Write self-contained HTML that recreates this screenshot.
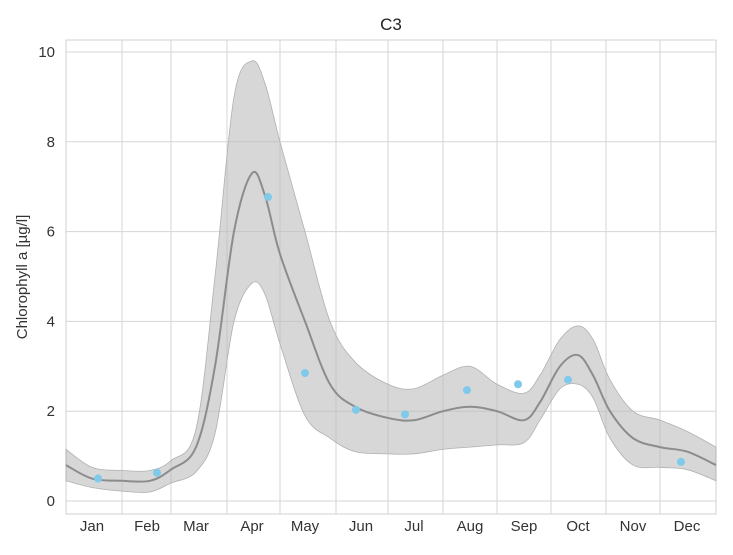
<!DOCTYPE html>
<html><head><meta charset="utf-8"><style>
body{margin:0;background:#fff;font-family:"Liberation Sans",sans-serif;}
</style></head><body>
<svg id="s" width="733" height="550" xmlns="http://www.w3.org/2000/svg" font-family="Liberation Sans, sans-serif">
<rect x="66" y="40" width="650" height="474" fill="#fff" stroke="#d0d0d0" stroke-width="1"/>
<g id="grid" stroke="#d5d5d5" stroke-width="1"></g>
<path id="band" fill="#bdbdbd" fill-opacity="0.6" stroke="#b0b0b0" stroke-width="0.8"/>
<path id="mean" fill="none" stroke="#8c8c8c" stroke-width="2"/>
<g id="dots" fill="#7fc9ea"></g>
<g id="lbl" font-size="15" fill="#333"></g>
<text x="391" y="30" font-size="17" fill="#222" text-anchor="middle">C3</text>
<text transform="translate(27,277) rotate(-90)" font-size="15" fill="#333" text-anchor="middle">Chlorophyll a [µg/l]</text>
</svg>
<script>
const Y=v=>501-44.9*v;
const ns="http://www.w3.org/2000/svg";
const g=document.getElementById('grid'),l=document.getElementById('lbl');
function el(p,t,a,txt){const e=document.createElementNS(ns,t);for(const k in a)e.setAttribute(k,a[k]);if(txt)e.textContent=txt;p.appendChild(e);}
[0,2,4,6,8,10].forEach(v=>{el(g,'line',{x1:66,x2:716,y1:Y(v),y2:Y(v)});el(l,'text',{x:55,y:Y(v)+5,'text-anchor':'end'},String(v));});
[122,171,227,280,336,388,443,497,551,606,660].forEach(x=>el(g,'line',{x1:x,x2:x,y1:40,y2:514}));
const m=['Jan','Feb','Mar','Apr','May','Jun','Jul','Aug','Sep','Oct','Nov','Dec'],mx=[92,147,196,252,305,361,414,470,524,578,633,687];
m.forEach((t,i)=>el(l,'text',{x:mx[i],y:531,'text-anchor':'middle'},t));
const xs=[66,92,122,150,171,196,215,234,252,265,280,305,330,355,388,414,443,470,497,524,540,560,578,593,610,633,660,687,716];
const mean=[0.8,0.5,0.45,0.45,0.7,1.2,3,6,7.3,6.8,5.5,4,2.6,2.1,1.85,1.8,2,2.1,2,1.8,2.2,3,3.25,2.8,2,1.4,1.2,1.1,0.8];
const up=[1.15,0.75,0.68,0.68,0.9,1.6,5,9,9.8,9.3,8,6,4,3.1,2.6,2.5,2.8,3,2.6,2.4,2.8,3.6,3.9,3.6,2.7,2,1.8,1.55,1.2];
const lo=[0.45,0.3,0.22,0.2,0.4,0.65,1.5,4,4.85,4.6,3.5,1.9,1.4,1.1,1.05,1.05,1.15,1.2,1.25,1.3,1.8,2.5,2.6,2.3,1.4,0.8,0.75,0.7,0.45];
function cr(pts,move){let d=(move?'M':'L')+pts[0][0]+','+pts[0][1];
for(let i=0;i<pts.length-1;i++){const p0=pts[Math.max(i-1,0)],p1=pts[i],p2=pts[i+1],p3=pts[Math.min(i+2,pts.length-1)];
d+=`C${p1[0]+(p2[0]-p0[0])/6},${p1[1]+(p2[1]-p0[1])/6} ${p2[0]-(p3[0]-p1[0])/6},${p2[1]-(p3[1]-p1[1])/6} ${p2[0]},${p2[1]}`;}return d;}
const P=a=>xs.map((x,i)=>[x,Y(a[i])]);
document.getElementById('mean').setAttribute('d',cr(P(mean),true));
document.getElementById('band').setAttribute('d',cr(P(up),true)+cr(P(lo).reverse(),false)+'Z');
const d=document.getElementById('dots');
[[98,0.5],[157,0.63],[268,6.77],[305,2.85],[356,2.03],[405,1.93],[467,2.47],[518,2.6],[568,2.7],[681,0.87]].forEach(p=>el(d,'circle',{cx:p[0],cy:Y(p[1]),r:4}));
</script>
</body></html>
